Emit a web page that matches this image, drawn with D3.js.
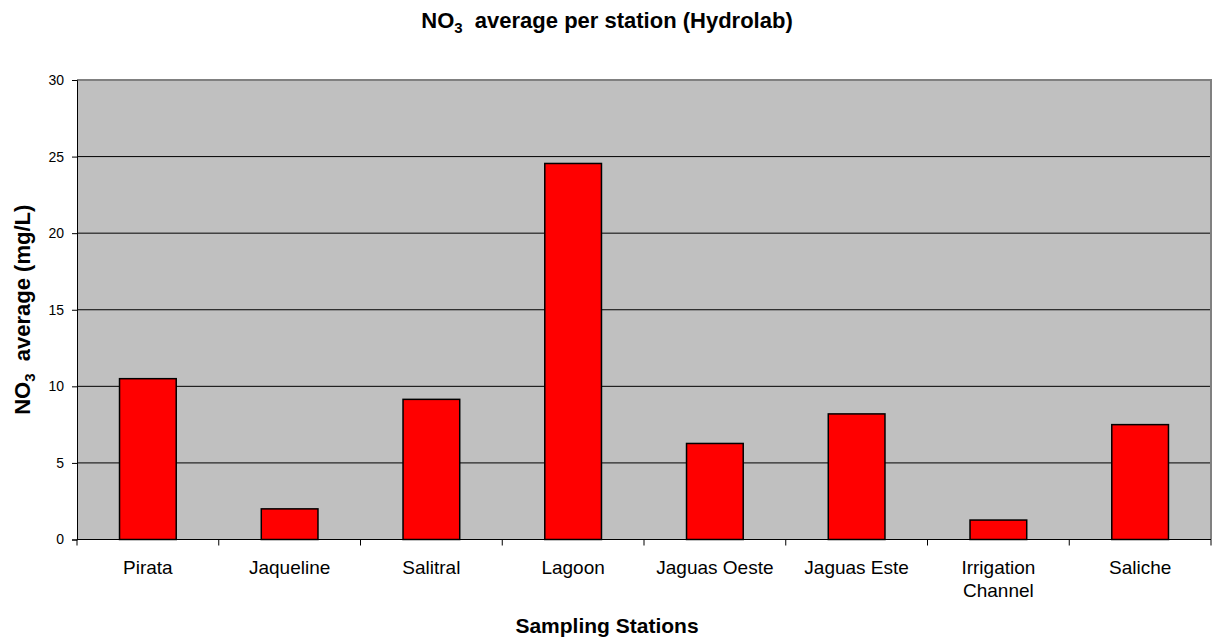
<!DOCTYPE html>
<html>
<head>
<meta charset="utf-8">
<script src="https://cdn.jsdelivr.net/npm/d3@7"></script>
<style>
  body { margin: 0; background: #fff; }
  svg { display: block; font-family: "Liberation Sans", Arial, sans-serif; }
</style>
</head>
<body>
<div id="chart"></div>
<script>
// data
const stations = ['Pirata', 'Jaqueline', 'Salitral', 'Lagoon', 'Jaguas Oeste', 'Jaguas Este', 'Irrigation Channel', 'Saliche'];
const no3Avg = [10.5, 2.0, 9.15, 24.55, 6.27, 8.2, 1.27, 7.5];
const yTicks = [0, 5, 10, 15, 20, 25, 30];

const width = 1219;
const height = 642;
const margin = { top: 80, right: 8, bottom: 102.5, left: 77 };
const innerW = width - margin.left - margin.right;
const innerH = height - margin.top - margin.bottom;

const svg = d3.select('#chart')
  .append('svg')
  .attr('width', width)
  .attr('height', height);

const x = d3.scaleBand()
  .domain(stations)
  .range([0, innerW])
  .paddingInner(0.6)
  .paddingOuter(0.3);

const y = d3.scaleLinear()
  .domain([0, 30])
  .range([innerH, 0]);

const g = svg.append('g')
  .attr('transform', `translate(${margin.left},${margin.top})`);

// plot background
g.append('rect')
  .attr('width', innerW)
  .attr('height', innerH)
  .attr('fill', '#c0c0c0');

// gridlines
g.selectAll('.grid')
  .data(yTicks.filter(t => t > 0 && t < 30))
  .enter()
  .append('line')
  .attr('x1', 0)
  .attr('x2', innerW)
  .attr('y1', d => y(d))
  .attr('y2', d => y(d))
  .attr('stroke', '#000')
  .attr('stroke-width', 1);

// top / right border
g.append('path')
  .attr('d', `M0,${y(30)}H${innerW}V${innerH}`)
  .attr('fill', 'none')
  .attr('stroke', '#808080')
  .attr('stroke-width', 2);

// bars
g.selectAll('.bar')
  .data(no3Avg)
  .enter()
  .append('rect')
  .attr('x', (d, i) => x(stations[i]))
  .attr('y', d => y(d))
  .attr('width', x.bandwidth())
  .attr('height', d => innerH - y(d))
  .attr('fill', '#ff0000')
  .attr('stroke', '#000')
  .attr('stroke-width', 1.5);

// y axis
const yAxis = g.append('g')
  .call(d3.axisLeft(y).tickValues(yTicks).tickSize(5).tickPadding(8));
yAxis.select('.domain').attr('stroke', '#000');
yAxis.selectAll('text')
  .attr('font-size', 14)
  .attr('font-family', '"Liberation Sans", Arial, sans-serif')
  .attr('fill', '#000');

// x axis: ticks on category boundaries
const boundaries = d3.range(stations.length + 1).map(i => i * innerW / stations.length);
g.append('line')
  .attr('x1', 0).attr('x2', innerW)
  .attr('y1', innerH).attr('y2', innerH)
  .attr('stroke', '#000');
g.selectAll('.xtick')
  .data(boundaries)
  .enter()
  .append('line')
  .attr('x1', d => d).attr('x2', d => d)
  .attr('y1', innerH).attr('y2', innerH + 6)
  .attr('stroke', '#000');

const xLabels = g.selectAll('.xlabel')
  .data(stations)
  .enter()
  .append('text')
  .attr('x', d => x(d) + x.bandwidth() / 2)
  .attr('y', innerH + 34)
  .attr('text-anchor', 'middle')
  .attr('font-size', 19)
  .attr('fill', '#000');

xLabels.each(function (d) {
  const t = d3.select(this);
  const words = d === 'Irrigation Channel' ? ['Irrigation', 'Channel'] : [d];
  words.forEach((w, i) => {
    t.append('tspan')
      .attr('x', x(d) + x.bandwidth() / 2)
      .attr('dy', i === 0 ? 0 : 23)
      .text(w);
  });
});

// title
const title = svg.append('text')
  .attr('x', 607)
  .attr('y', 28)
  .attr('text-anchor', 'middle')
  .attr('font-size', 22)
  .attr('font-weight', 'bold');
title.append('tspan').text('NO');
title.append('tspan').attr('font-size', 15).attr('dy', 5).text('3');
title.append('tspan').attr('dy', -5).text('\u00a0 average per station (Hydrolab)');

// y title
const yTitle = svg.append('text')
  .attr('transform', `translate(30,${margin.top + innerH / 2}) rotate(-90)`)
  .attr('text-anchor', 'middle')
  .attr('font-size', 22)
  .attr('font-weight', 'bold');
yTitle.append('tspan').text('NO');
yTitle.append('tspan').attr('font-size', 15).attr('dy', 5).text('3');
yTitle.append('tspan').attr('dy', -5).text('\u00a0 average (mg/L)');

// x title
svg.append('text')
  .attr('x', 607)
  .attr('y', 633)
  .attr('text-anchor', 'middle')
  .attr('font-size', 21)
  .attr('font-weight', 'bold')
  .text('Sampling Stations');
</script>
</body>
</html>
